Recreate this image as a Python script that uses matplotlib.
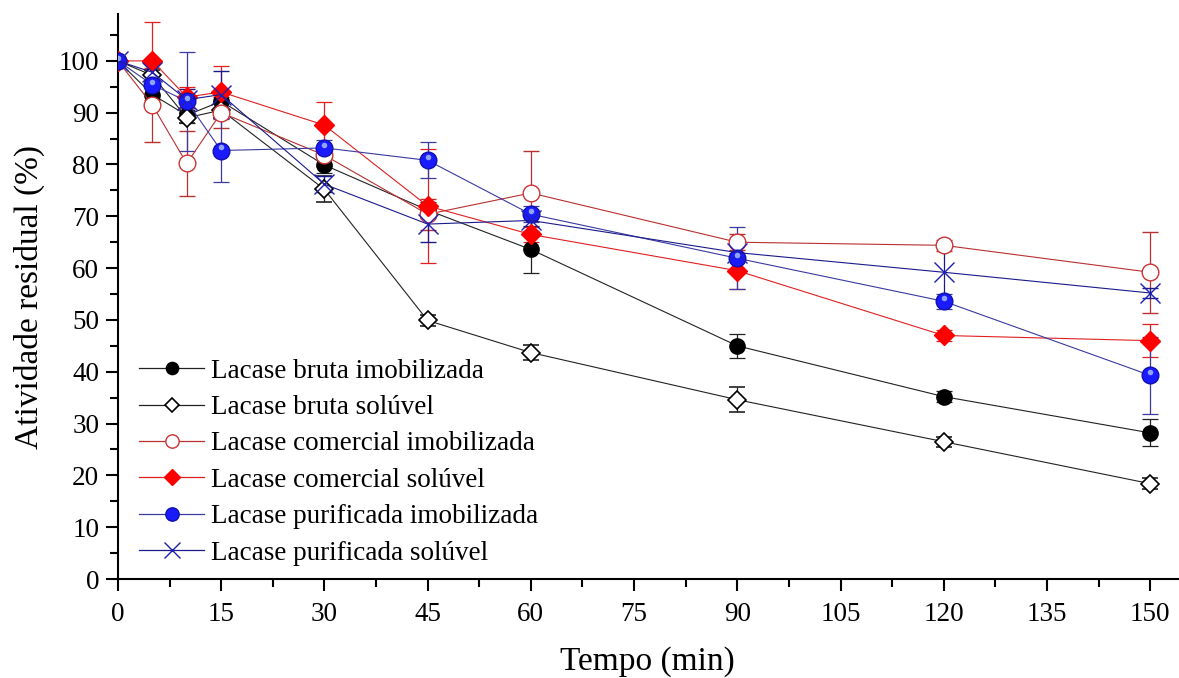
import matplotlib
matplotlib.use('Agg')
import matplotlib.pyplot as plt
from matplotlib.lines import Line2D
from matplotlib.ticker import MultipleLocator

tempo = [0, 5, 10, 15, 30, 45, 60, 90, 120, 150]

bruta_imob = [100, 93.5, 89.5, 92.2, 79.9, 71.2, 63.6, 45.0, 35.2, 28.2]
bruta_imob_err = [0, 1.5, 1.5, 1.5, 1.5, 1.5, 4.6, 2.3, 1.0, 2.6]

bruta_sol = [100, 97.2, 89.0, 90.5, 75.2, 49.9, 43.7, 34.6, 26.5, 18.4]
bruta_sol_err = [0, 1.0, 1.0, 1.5, 2.5, 1.0, 1.5, 2.4, 1.0, 1.0]

comercial_imob = [100, 91.5, 80.2, 90.0, 81.8, 70.4, 74.5, 65.0, 64.4, 59.2]
comercial_imob_err = [0, 7.2, 6.3, 3.0, 2.0, 3.0, 8.2, 1.5, 1.0, 7.8]

comercial_sol = [100, 100.0, 93.0, 94.0, 87.6, 72.0, 66.5, 59.5, 47.0, 46.0]
comercial_sol_err = [0, 7.5, 2.0, 5.0, 4.4, 11.0, 1.5, 3.5, 1.0, 3.2]

purif_imob = [100, 95.4, 92.2, 82.7, 83.2, 80.8, 70.4, 61.9, 53.6, 39.3]
purif_imob_err = [0, 2.0, 9.5, 6.0, 1.5, 3.5, 1.5, 6.0, 1.5, 7.4]

purif_sol = [100, 97.8, 92.5, 93.5, 76.2, 68.5, 69.2, 63.0, 59.2, 55.2]
purif_sol_err = [0, 1.5, 2.0, 4.5, 1.5, 3.5, 2.0, 1.5, 5.0, 1.0]

plt.rcParams['font.family'] = ['Liberation Serif', 'DejaVu Serif']

fig = plt.figure(figsize=(11.79, 6.78), dpi=100)
ax = fig.add_axes([0.100, 0.146, 0.899, 0.833])

series = [
    ('Lacase bruta imobilizada', bruta_imob, bruta_imob_err, '#222222',
     dict(marker='o', mfc='black', mec='black', ms=11)),
    ('Lacase bruta solúvel', bruta_sol, bruta_sol_err, '#222222',
     dict(marker='D', mfc='white', mec='black', ms=9, mew=1.2)),
    ('Lacase comercial imobilizada', comercial_imob, comercial_imob_err, '#b83030',
     dict(marker='o', mfc='white', mec='#cc3333', ms=12, mew=1.0)),
    ('Lacase comercial solúvel', comercial_sol, comercial_sol_err, '#e02020',
     dict(marker='D', mfc='#ff0000', mec='#ff0000', ms=10)),
    ('Lacase purificada imobilizada', purif_imob, purif_imob_err, '#3a3aa0',
     dict(marker='o', mfc='#1a1aff', mec='#1010b0', ms=12)),
    ('Lacase purificada solúvel', purif_sol, purif_sol_err, '#1a1a8c',
     dict(marker='x', mfc='none', mec='#2020b0', ms=14, mew=1.0)),
]

handles = []
for label, y, err, col, style in series:
    ax.errorbar(tempo, y, yerr=err, color=col, lw=0.8, elinewidth=0.9,
                capsize=6, capthick=0.9, zorder=3, **style)
    leg_style = dict(style)
    leg_style['ms'] = style['ms'] * 0.8
    handles.append(Line2D([], [], color=col, lw=0.9, label=label, **leg_style))

# glossy highlight on the purified immobilized markers
ax.plot(tempo, [v + 0.6 for v in purif_imob], ls='none', marker='o',
        ms=4, mfc='#8fa4ff', mec='none', zorder=4)

ax.set_xlim(0, 154)
ax.set_ylim(0, 109)
ax.xaxis.set_major_locator(MultipleLocator(15))
ax.xaxis.set_minor_locator(MultipleLocator(7.5))
ax.yaxis.set_minor_locator(MultipleLocator(5))
ax.set_yticks(range(0, 101, 10))
ax.tick_params(which='major', direction='out', length=8.5, width=1.5, labelsize=19.5)
ax.tick_params(which='minor', direction='out', length=5.5, width=1.5)
ax.tick_params(axis='x', which='major', pad=8)
ax.tick_params(axis='y', which='major', pad=5)
ax.spines['top'].set_visible(False)
ax.spines['right'].set_visible(False)
ax.spines['left'].set_linewidth(1.5)
ax.spines['bottom'].set_linewidth(1.5)

ax.set_xlabel('Tempo (min)', fontsize=24, labelpad=14)
ax.set_ylabel('Atividade residual (%)', fontsize=24, labelpad=10)

ax.legend(handles=handles, loc='lower left', bbox_to_anchor=(0.005, -0.005),
          frameon=False, fontsize=19.5, handlelength=2.4, handletextpad=0.25,
          labelspacing=0.42, borderaxespad=0.2)

fig.savefig('out.png', dpi=100)
